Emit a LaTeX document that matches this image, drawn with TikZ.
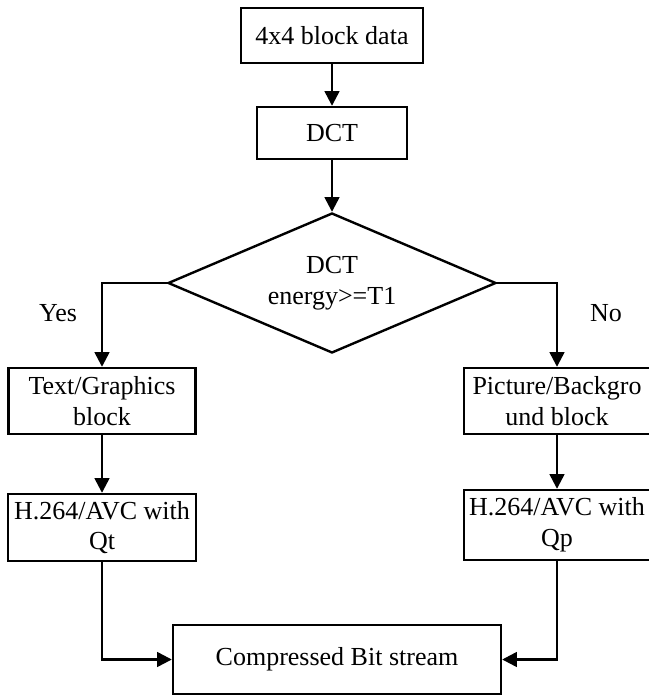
\documentclass[tikz,border=0pt]{standalone}
\usepackage{fontspec}
\setmainfont{Liberation Serif}
\usetikzlibrary{shapes.geometric, arrows.meta}

\begin{document}
\begin{tikzpicture}[x=0.75pt, y=-0.75pt,
	every node/.style={font=\fontsize{19.5}{23}\selectfont},
	blk/.style={draw, line width=1.8pt, inner sep=0pt, align=center},
	arr/.style={line width=1.8pt, -{Triangle[length=11pt, width=11pt]}}]
		\useasboundingbox (0,0) rectangle (649,700);
		\draw (332,35.5) node[blk, minimum width=136.5pt, minimum height=41.25pt] (blkdata) {4x4 block data}
		(332,133) node[blk, minimum width=112.5pt, minimum height=39pt] (dct) {DCT}
		(332,283) node[blk, diamond, aspect=2.34, minimum width=246pt, minimum height=105pt] (energy) {DCT\\energy>=T1}
		(102,401) node[blk, minimum width=140.25pt, minimum height=49.5pt] (txtblk) {Text/Graphics\\block}
		(557,401) node[blk, minimum width=139.5pt, minimum height=49.5pt] (picblk) {Picture/Backgro\\und block}
		(102,527.5) node[blk, minimum width=141pt, minimum height=50.25pt] (qtenc) {H.264/AVC with\\Qt}
		(557,525) node[blk, minimum width=139.5pt, minimum height=52.5pt] (qpenc) {H.264/AVC with\\Qp}
		(337,659.5) node[blk, minimum width=246pt, minimum height=51.75pt] (bitstream) {Compressed Bit stream}
		(58,313) node (yes) {Yes}
		(606,313) node (no) {No};

		\draw[arr] (blkdata) -- (dct);
		\draw[arr] (dct) -- (energy);
		\draw[arr] (energy.west) -| (txtblk.north);
		\draw[arr] (energy.east) -| (picblk.north);
		\draw[arr] (txtblk) -- (qtenc);
		\draw[arr] (picblk) -- (qpenc);
		\draw[arr] (qtenc.south) |- (bitstream.west);
		\draw[arr] (qpenc.south) |- (bitstream.east);
	\end{tikzpicture}
\end{document}
